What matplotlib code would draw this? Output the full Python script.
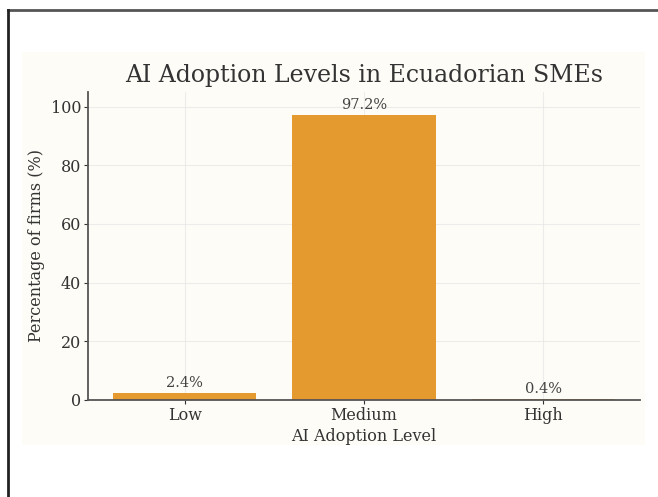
import matplotlib
matplotlib.use('Agg')
import matplotlib.pyplot as plt
from matplotlib.patches import Rectangle
from matplotlib.lines import Line2D

levels = ['Low', 'Medium', 'High']
percentages = [2.4, 97.2, 0.4]

plt.rcParams['font.family'] = 'DejaVu Serif'

fig = plt.figure(figsize=(6.58, 4.97), dpi=100)
fig.patch.set_facecolor('white')

# off-white panel behind the chart, plus the screenshot border
fig.add_artist(Rectangle((22 / 658, 1 - 445 / 497), 623 / 658, 393 / 497,
                         transform=fig.transFigure, facecolor='#fdfcf7',
                         edgecolor='none', zorder=-10))
fig.add_artist(Line2D([8 / 658, 1], [1 - 10 / 497, 1 - 10 / 497],
                      transform=fig.transFigure, color='#555555', lw=2))
fig.add_artist(Line2D([8 / 658, 8 / 658], [0, 1 - 10 / 497],
                      transform=fig.transFigure, color='#222222', lw=2))

ax = fig.add_axes([88 / 658, 1 - 400 / 497, 552 / 658, 308 / 497])
ax.set_facecolor('#fdfcf7')

bars = ax.bar(levels, percentages, color='#e59a30', width=0.8, zorder=2)
for bar, p in zip(bars, percentages):
    ax.text(bar.get_x() + bar.get_width() / 2, bar.get_height() + 1, f'{p}%',
            ha='center', va='bottom', fontsize=10.5, color='#444444')

ax.set_ylim(0, 105)
ax.set_title('AI Adoption Levels in Ecuadorian SMEs', fontsize=17, color='#333333', pad=7)
ax.set_xlabel('AI Adoption Level', fontsize=11.5, color='#333333', labelpad=3)
ax.set_ylabel('Percentage of firms (%)', fontsize=11.5, color='#333333')
ax.tick_params(labelsize=11.5, colors='#333333', length=3, pad=2)
ax.grid(True, color='#e6e6e6', lw=0.8, alpha=0.7, zorder=0)
for s in ['top', 'right']:
    ax.spines[s].set_visible(False)
for s in ['left', 'bottom']:
    ax.spines[s].set_color('#555555')
    ax.spines[s].set_linewidth(1.3)

fig.savefig('out.png', dpi=100)
